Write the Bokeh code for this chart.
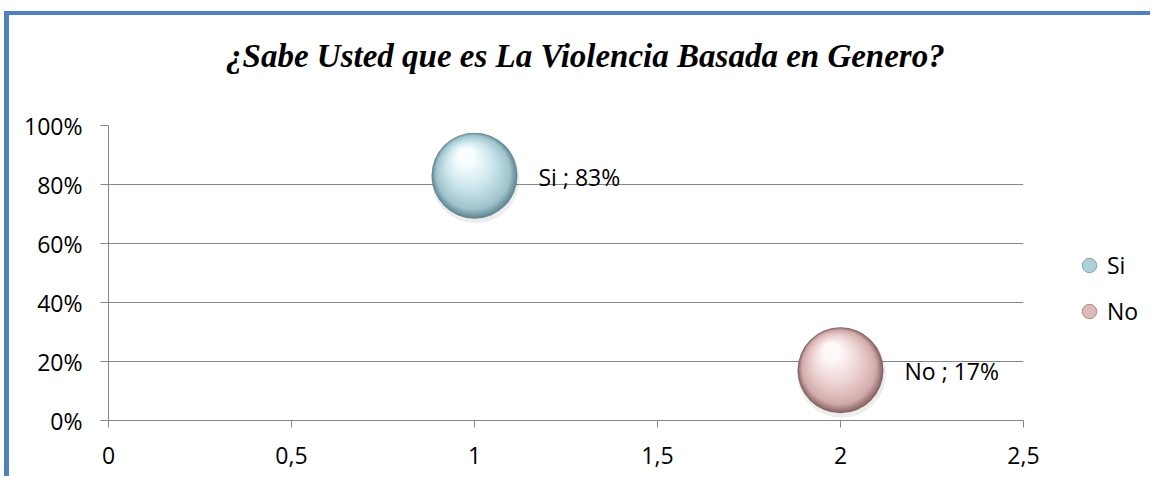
from bokeh.plotting import figure
from bokeh.models import (ColumnDataSource, LabelSet, Label, Legend, LegendItem, FixedTicker,
                          NumeralTickFormatter, Div, Spacer)
from bokeh.layouts import column, row
from bokeh.core.properties import value
from bokeh.embed import file_html
from bokeh.resources import INLINE

# ---- data ----
categories = ["Si", "No"]
x_values = [1, 2]
y_values = [0.83, 0.17]
data_labels = ["Si ; 83%", "No ; 17%"]
x_ticks = [0, 0.5, 1, 1.5, 2, 2.5]
x_tick_labels = ["0", "0,5", "1", "1,5", "2", "2,5"]
y_ticks = [0, 0.2, 0.4, 0.6, 0.8, 1.0]
title_text = "¿Sabe Usted que es La Violencia Basada  en Genero?"

# ---- layout / styling ----
PAD_TOP, LINE_TOP, PAD_LEFT, LINE_LEFT = 11, 4, 4, 5
TOP_LINE_W = 1150
MAIN_W, LEG_W = 1031, 110
TITLE_H = 70
BL, BR, BT, BB = 99, 17, 40, 56
FW, FH = 915, 295
MAIN_H = BT + FH + BB
X0, X1 = 0, 2.5
Y0, Y1 = 0, 1
FONT = "Open Sans"
FS = "23px"
GRAY = "#868686"
BLUE = "#4f81bd"
D = 86  # bubble diameter px

sphere_stops = {
    "Si": [(0.0, "#628892"), (0.16, "#a0c3cc"), (0.55, "#cbe6ec"), (1.0, "#f8feff")],
    "No": [(0.0, "#876566"), (0.16, "#d3abac"), (0.55, "#edd3d3"), (1.0, "#fff9f9")],
}


def hex2rgb(h):
    h = h.lstrip("#")
    return tuple(int(h[i:i + 2], 16) for i in (0, 2, 4))


def interp(stops, t):
    for (t0, c0), (t1, c1) in zip(stops[:-1], stops[1:]):
        if t0 <= t <= t1:
            f = (t - t0) / (t1 - t0) if t1 > t0 else 0
            a, b = hex2rgb(c0), hex2rgb(c1)
            return "#%02x%02x%02x" % tuple(int(round(a[i] + (b[i] - a[i]) * f)) for i in range(3))
    return stops[-1][1]


def bare_fig(w, h):
    f = figure(width=w, height=h, x_range=(0, 1), y_range=(0, 1),
               x_axis_type=None, y_axis_type=None, output_backend="svg",
               toolbar_location=None, min_border=0)
    f.title_location = None
    f.outline_line_color = None
    f.grid.visible = False
    f.border_fill_color = "white"
    return f


# ---------- title ----------
title_fig = bare_fig(MAIN_W + LEG_W, TITLE_H)
title_fig.add_layout(Label(x=580, y=30, x_units="screen", y_units="screen", text=title_text,
                           text_align="center", text_baseline="alphabetic",
                           text_font="Liberation Serif", text_font_style="bold italic",
                           text_font_size="33px", text_color="black"))

# ---------- main chart ----------
p = figure(width=MAIN_W, height=MAIN_H, x_range=(X0, X1), y_range=(Y0, Y1),
           output_backend="svg", toolbar_location=None,
           min_border_left=BL, min_border_right=BR, min_border_top=BT, min_border_bottom=BB)
p.title_location = None
p.outline_line_color = None
p.background_fill_color = "white"
p.border_fill_color = "white"

px_x = (X1 - X0) / FW
px_y = (Y1 - Y0) / FH

for ax in (p.xaxis[0], p.yaxis[0]):
    ax.axis_line_color = GRAY
    ax.major_tick_line_color = GRAY
    ax.minor_tick_line_color = None
    ax.major_tick_in = 0
    ax.major_label_text_font = FONT
    ax.major_label_text_font_size = FS
    ax.major_label_text_color = "black"
p.xaxis.ticker = FixedTicker(ticks=x_ticks)
p.xaxis.major_label_overrides = {t: l for t, l in zip(x_ticks, x_tick_labels)}
p.xaxis.major_tick_out = 7
p.xaxis.major_label_standoff = 19
p.yaxis.ticker = FixedTicker(ticks=y_ticks)
p.yaxis.formatter = NumeralTickFormatter(format="0%")
p.yaxis.major_tick_out = 8
p.yaxis.major_label_standoff = 18

p.xgrid.grid_line_color = None
p.ygrid.grid_line_color = GRAY
p.ygrid.ticker = FixedTicker(ticks=y_ticks[1:])

# soft shadow
shadow = ColumnDataSource(dict(x=[xv + 1 * px_x for xv in x_values],
                               y=[yv - 3 * px_y for yv in y_values]))
p.scatter("x", "y", source=shadow, size=D + 3, fill_color="#000000", fill_alpha=0.07, line_color=None)

# layered spheres
N = 34
for k in range(N):
    t = k / (N - 1)
    size = D * (1 - 0.80 * t)
    dx = -0.10 * D * t
    dy = 0.22 * D * t
    src = ColumnDataSource(dict(
        x=[xv + dx * px_x for xv in x_values],
        y=[yv + dy * px_y for yv in y_values],
        c=[interp(sphere_stops[cat], t) for cat in categories],
    ))
    p.scatter("x", "y", source=src, size=size, fill_color="c", line_color=None)

# data labels
lab_src = ColumnDataSource(dict(x=x_values, y=y_values, t=data_labels))
p.add_layout(LabelSet(x="x", y="y", text="t", source=lab_src, x_offset=64, y_offset=-1,
                      text_baseline="middle", text_font=value(FONT), text_font_size=FS,
                      text_color="black"))

# ---------- legend ----------
leg_fig = bare_fig(LEG_W, MAIN_H)
items = []
for cat in categories:
    r = leg_fig.scatter([-5], [-5], size=10, fill_color=interp(sphere_stops[cat], 0.3),
                        line_color=interp(sphere_stops[cat], 0.08), line_width=1)
    items.append(LegendItem(label=cat, renderers=[r]))
legend = Legend(items=items, location=(31, 91), orientation="vertical",
                glyph_width=36, glyph_height=36, label_standoff=0, spacing=10,
                padding=0, margin=0, border_line_alpha=0, background_fill_alpha=0,
                label_text_font=FONT, label_text_font_size=FS, label_text_color="black")
leg_fig.add_layout(legend, "center")

# ---------- frame lines + composition ----------
top_line = Div(text="", width=TOP_LINE_W - PAD_LEFT, height=LINE_TOP, margin=0,
               styles={"background-color": BLUE})
left_line = Div(text="", width=LINE_LEFT, height=TITLE_H + MAIN_H, margin=0,
                styles={"background-color": BLUE})
layout = column(
    Spacer(width=TOP_LINE_W, height=PAD_TOP, margin=0),
    row(Spacer(width=PAD_LEFT, height=LINE_TOP, margin=0), top_line, margin=0),
    row(Spacer(width=PAD_LEFT, height=TITLE_H + MAIN_H, margin=0), left_line,
        column(title_fig, row(p, leg_fig, margin=0), margin=0), margin=0),
    margin=0,
)

open("out.html", "w").write(file_html(layout, INLINE))
